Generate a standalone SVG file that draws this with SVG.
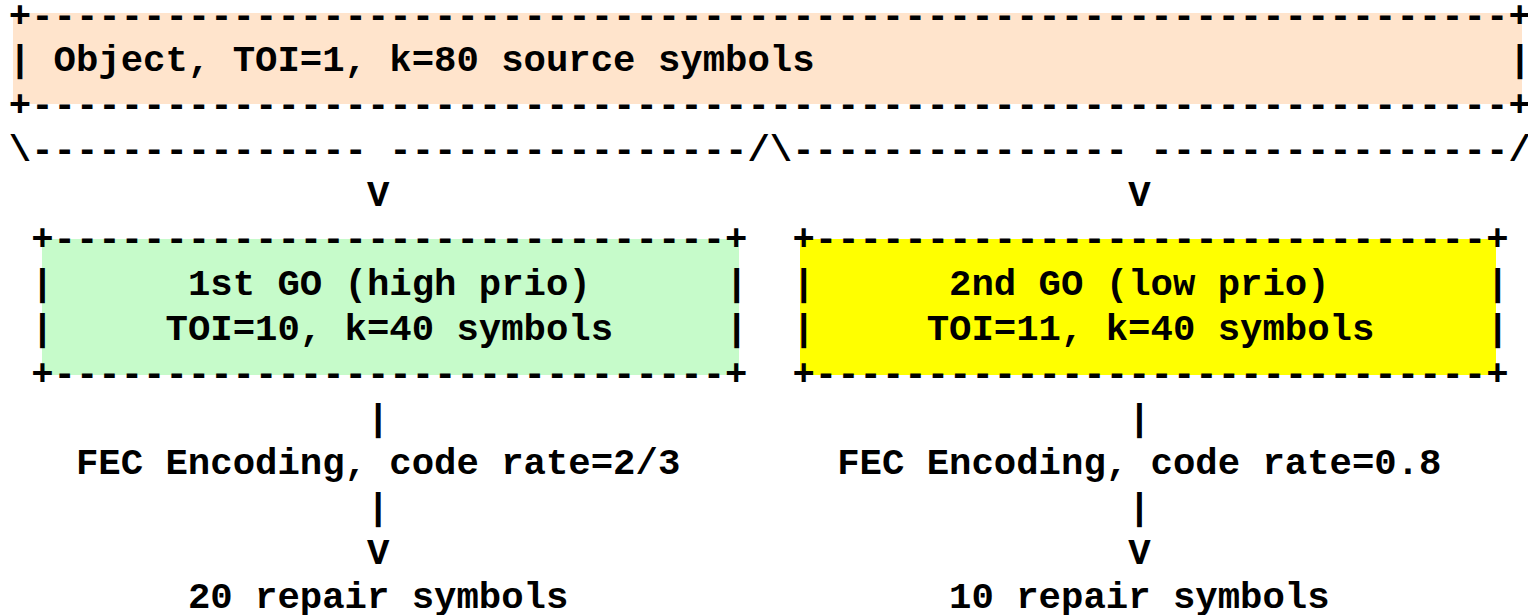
<svg xmlns="http://www.w3.org/2000/svg" width="1528" height="615" viewBox="0 0 1528 615">
<style>
text{font-family:"Liberation Mono","DejaVu Sans Mono",monospace;font-weight:bold;font-size:37.31px;fill:#000;white-space:pre}
.peach{fill:#ffe4cc}
.green{fill:#c6fbca}
.yellow{fill:#ffff00}
</style>
<rect width="1528" height="615" fill="#ffffff"/>
<g id="node-object">
<rect class="peach" x="13" y="13" width="1509" height="91"/>
<text x="8.8" y="26.5">+------------------------------------------------------------------+</text>
<text x="8.8" y="71.2">|</text>
<text x="53.58" y="71.2">Object, TOI=1, k=80 source symbols</text>
<text x="1508.8" y="71.2">|</text>
<text x="8.8" y="116">+------------------------------------------------------------------+</text>
</g>
<g id="connectors">
<text x="8.8" y="160.8" xml:space="preserve">\--------------- ----------------/\--------------- ----------------/</text>
<text x="367" y="205.6">V</text>
<text x="1128.2" y="205.6">V</text>
<text x="367" y="429.5">|</text>
<text x="1128.2" y="429.5">|</text>
<text x="75.96" y="474.3">FEC Encoding, code rate=2/3</text>
<text x="837.2" y="474.3">FEC Encoding, code rate=0.8</text>
<text x="367" y="519">|</text>
<text x="1128.2" y="519">|</text>
<text x="367" y="563.8">V</text>
<text x="1128.2" y="563.8">V</text>
</g>
<g id="node-go1">
<rect class="green" x="42" y="239" width="697" height="136"/>
<text x="31.19" y="250.4">+------------------------------+</text>
<text x="31.19" y="295.2">|</text>
<text x="187.9" y="295.2">1st GO (high prio)</text>
<text x="725.6" y="295.2">|</text>
<text x="31.19" y="340">|</text>
<text x="165.5" y="340">TOI=10, k=40 symbols</text>
<text x="725.6" y="340">|</text>
<text x="31.19" y="384.8">+------------------------------+</text>
</g>
<g id="node-go2">
<rect class="yellow" x="800" y="239" width="696" height="136"/>
<text x="792.4" y="250.4">+------------------------------+</text>
<text x="792.4" y="295.2">|</text>
<text x="949.1" y="295.2">2nd GO (low prio)</text>
<text x="1486.4" y="295.2">|</text>
<text x="792.4" y="340">|</text>
<text x="926.7" y="340">TOI=11, k=40 symbols</text>
<text x="1486.4" y="340">|</text>
<text x="792.4" y="384.8">+------------------------------+</text>
</g>
<g id="node-repair1">
<text x="187.9" y="607.5">20 repair symbols</text>
</g>
<g id="node-repair2">
<text x="949.1" y="607.5">10 repair symbols</text>
</g>
</svg>
